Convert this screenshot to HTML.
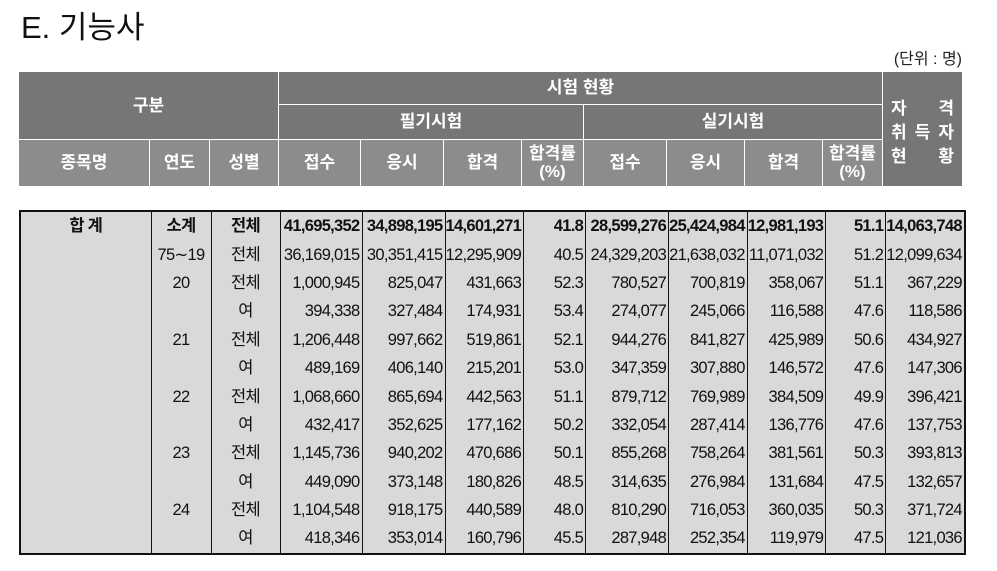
<!DOCTYPE html>
<html><head><meta charset="utf-8">
<style>
body{margin:0;width:997px;height:571px;background:#fff;position:relative;overflow:hidden;font-family:"Liberation Sans","Noto Sans CJK KR",sans-serif;}
.t{position:absolute;left:21px;top:2px;font-size:31px;color:#111;}
.u{position:absolute;right:35px;top:45px;font-size:16px;color:#222;}
.h{position:absolute;box-sizing:border-box;color:#fff;font-weight:bold;font-size:17px;display:flex;align-items:center;justify-content:center;text-align:center;line-height:18px;border-right:1.5px solid #fff;border-bottom:1.5px solid #fff;}
.d{background:#767676}.l{background:#8c8c8c}
table{position:absolute;left:19px;top:210px;border-collapse:collapse;table-layout:fixed;background:#d9d9d9;border:2px solid #111;font-size:16.5px;letter-spacing:-0.7px;color:#111;}
td{height:28.4px;padding:0 2px 0 0;border-left:1px solid #111;text-align:right;white-space:nowrap;line-height:28px;}
td.c{text-align:center;padding:0}
tr:first-child td{font-weight:bold}
</style></head><body>
<div class="t">E. 기능사</div>
<div class="u">(단위 : 명)</div>
<div class="h d" style="left:19px;top:72px;width:260px;height:68px">구분</div>
<div class="h d" style="left:279px;top:72px;width:604px;height:33px">시험 현황</div>
<div class="h d" style="left:279px;top:105px;width:305px;height:35px">필기시험</div>
<div class="h d" style="left:584px;top:105px;width:299px;height:35px">실기시험</div>
<div class="h d" style="left:883px;top:72px;width:79px;height:115px;border-right:none;padding:8px 8px 0;align-content:center;flex-wrap:wrap;line-height:24px"><span style="width:100%;display:flex;justify-content:space-between"><span>자</span><span>격</span></span><span style="width:100%;display:flex;justify-content:space-between"><span>취</span><span>득</span><span>자</span></span><span style="width:100%;display:flex;justify-content:space-between"><span>현</span><span>황</span></span></div>
<div class="h l" style="left:19px;top:140px;width:131px;height:47px">종목명</div>
<div class="h l" style="left:150px;top:140px;width:60px;height:47px">연도</div>
<div class="h l" style="left:210px;top:140px;width:69px;height:47px">성별</div>
<div class="h l" style="left:279px;top:140px;width:82px;height:47px">접수</div>
<div class="h l" style="left:361px;top:140px;width:83px;height:47px">응시</div>
<div class="h l" style="left:444px;top:140px;width:78px;height:47px">합격</div>
<div class="h l" style="left:522px;top:140px;width:62px;height:47px">합격률<br>(%)</div>
<div class="h l" style="left:584px;top:140px;width:83px;height:47px">접수</div>
<div class="h l" style="left:667px;top:140px;width:78px;height:47px">응시</div>
<div class="h l" style="left:745px;top:140px;width:78px;height:47px">합격</div>
<div class="h l" style="left:823px;top:140px;width:60px;height:47px">합격률<br>(%)</div>
<table>
<colgroup><col style="width:131px"><col style="width:60px"><col style="width:69px"><col style="width:82px"><col style="width:83px"><col style="width:78px"><col style="width:62px"><col style="width:83px"><col style="width:78px"><col style="width:78px"><col style="width:60px"><col style="width:79px"></colgroup>
<tr><td class="c">합 계</td><td class="c">소계</td><td class="c">전체</td><td>41,695,352</td><td>34,898,195</td><td>14,601,271</td><td>41.8</td><td>28,599,276</td><td>25,424,984</td><td>12,981,193</td><td>51.1</td><td>14,063,748</td></tr>
<tr><td></td><td class="c">75∼19</td><td class="c">전체</td><td>36,169,015</td><td>30,351,415</td><td>12,295,909</td><td>40.5</td><td>24,329,203</td><td>21,638,032</td><td>11,071,032</td><td>51.2</td><td>12,099,634</td></tr>
<tr><td></td><td class="c">20</td><td class="c">전체</td><td>1,000,945</td><td>825,047</td><td>431,663</td><td>52.3</td><td>780,527</td><td>700,819</td><td>358,067</td><td>51.1</td><td>367,229</td></tr>
<tr><td></td><td></td><td class="c">여</td><td>394,338</td><td>327,484</td><td>174,931</td><td>53.4</td><td>274,077</td><td>245,066</td><td>116,588</td><td>47.6</td><td>118,586</td></tr>
<tr><td></td><td class="c">21</td><td class="c">전체</td><td>1,206,448</td><td>997,662</td><td>519,861</td><td>52.1</td><td>944,276</td><td>841,827</td><td>425,989</td><td>50.6</td><td>434,927</td></tr>
<tr><td></td><td></td><td class="c">여</td><td>489,169</td><td>406,140</td><td>215,201</td><td>53.0</td><td>347,359</td><td>307,880</td><td>146,572</td><td>47.6</td><td>147,306</td></tr>
<tr><td></td><td class="c">22</td><td class="c">전체</td><td>1,068,660</td><td>865,694</td><td>442,563</td><td>51.1</td><td>879,712</td><td>769,989</td><td>384,509</td><td>49.9</td><td>396,421</td></tr>
<tr><td></td><td></td><td class="c">여</td><td>432,417</td><td>352,625</td><td>177,162</td><td>50.2</td><td>332,054</td><td>287,414</td><td>136,776</td><td>47.6</td><td>137,753</td></tr>
<tr><td></td><td class="c">23</td><td class="c">전체</td><td>1,145,736</td><td>940,202</td><td>470,686</td><td>50.1</td><td>855,268</td><td>758,264</td><td>381,561</td><td>50.3</td><td>393,813</td></tr>
<tr><td></td><td></td><td class="c">여</td><td>449,090</td><td>373,148</td><td>180,826</td><td>48.5</td><td>314,635</td><td>276,984</td><td>131,684</td><td>47.5</td><td>132,657</td></tr>
<tr><td></td><td class="c">24</td><td class="c">전체</td><td>1,104,548</td><td>918,175</td><td>440,589</td><td>48.0</td><td>810,290</td><td>716,053</td><td>360,035</td><td>50.3</td><td>371,724</td></tr>
<tr><td></td><td></td><td class="c">여</td><td>418,346</td><td>353,014</td><td>160,796</td><td>45.5</td><td>287,948</td><td>252,354</td><td>119,979</td><td>47.5</td><td>121,036</td></tr>
</table>
</body></html>
